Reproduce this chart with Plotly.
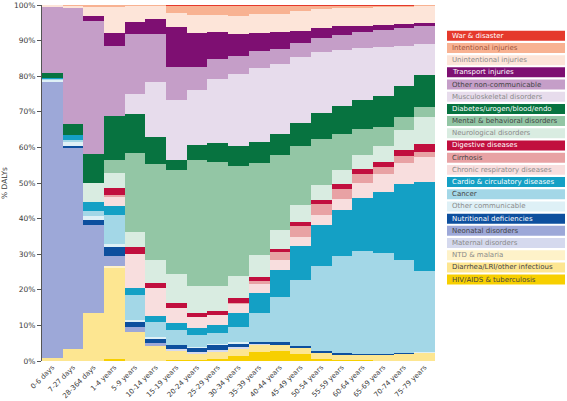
import plotly.graph_objects as go

ages = ["0-6 days", "7-27 days", "28-364 days", "1-4 years", "5-9 years", "10-14 years",
        "15-19 years", "20-24 years", "25-29 years", "30-34 years", "35-39 years",
        "40-44 years", "45-49 years", "50-54 years", "55-59 years", "60-64 years",
        "65-69 years", "70-74 years", "75-79 years"]

# % DALYs per cause (stack order bottom -> top)
hiv_tb       = [0, 0, 0, 0.5, 0, 0, 0.3, 0.4, 0.6, 1.3, 2.6, 2.8, 1.9, 0.7, 0.3, 0.2, 0.1, 0, 0]
diarrhea     = [0.8, 3.4, 13.4, 25.5, 8.2, 4.2, 2.6, 1.6, 2.0, 2.2, 1.9, 1.9, 1.8, 1.6, 1.6, 1.6, 1.7, 2.0, 2.3]
ntd_malaria  = [0, 0, 0, 0.6, 0, 0, 0, 0, 0, 0, 0, 0, 0, 0, 0, 0, 0, 0, 0]
maternal     = [0, 0, 0, 0, 0, 0, 0.4, 0.4, 0.5, 0.3, 0.2, 0, 0, 0, 0, 0, 0, 0, 0]
neonatal     = [77.7, 56.5, 24.8, 2.8, 1.4, 0.8, 0, 0, 0, 0, 0, 0, 0, 0, 0, 0, 0, 0, 0]
nutritional  = [0, 0.5, 1.3, 2.7, 1.4, 1.4, 1.2, 1.3, 1.4, 1.2, 0.6, 0.5, 0.6, 0.5, 0.4, 0.2, 0.2, 0.2, 0.1]
other_comm   = [0.5, 1.1, 1.1, 0.9, 0.5, 0.3, 0, 0.3, 0.3, 0.3, 0, 0, 0, 0, 0, 0, 0, 0, 0.2]
cancer       = [0.3, 0.7, 1.5, 8.1, 7.0, 4.3, 4.2, 3.3, 3.0, 4.3, 8.1, 12.8, 18.4, 23.8, 27.1, 28.9, 28.2, 26.3, 22.7]
cardio       = [0.3, 1.2, 2.6, 2.4, 1.9, 1.6, 1.9, 2.0, 2.3, 3.8, 5.6, 7.7, 9.6, 11.5, 13.0, 15.0, 17.3, 21.3, 25.0]
chronic_resp = [0, 0, 0, 2.7, 9.6, 7.8, 4.2, 3.1, 2.8, 2.7, 2.6, 2.6, 2.6, 3.0, 3.2, 4.1, 5.1, 5.8, 7.0]
cirrhosis    = [0, 0, 0, 0.5, 0, 0, 0, 0, 0, 0.3, 0.9, 2.4, 3.0, 2.9, 2.8, 2.5, 1.9, 1.9, 1.4]
digestive    = [0, 0, 0, 1.9, 2.1, 1.4, 1.4, 1.1, 1.2, 1.2, 1.2, 0.9, 1.2, 1.2, 1.3, 1.4, 1.4, 1.7, 2.2]
neurological = [0, 0, 5.3, 4.3, 4.2, 6.5, 8.1, 7.5, 6.9, 6.2, 6.0, 5.3, 4.7, 4.2, 3.9, 3.9, 4.4, 5.6, 7.6]
mental       = [0, 0, 0, 3.7, 22.1, 27.1, 29.3, 35.4, 34.9, 30.9, 25.9, 20.9, 16.5, 13.1, 10.3, 7.5, 5.4, 3.7, 2.8]
diabetes     = [1.2, 3.1, 8.2, 12.1, 11.1, 7.5, 3.0, 4.2, 5.2, 5.7, 5.9, 6.1, 6.5, 7.2, 7.6, 8.1, 8.6, 8.7, 8.9]
musculo      = [0, 0, 0, 0, 5.6, 15.5, 16.6, 15.6, 18.2, 20.3, 20.7, 19.6, 18.6, 17.1, 15.9, 14.6, 13.9, 11.4, 8.9]
other_ncd    = [18.8, 32.9, 37.4, 19.9, 16.8, 13.5, 9.4, 6.4, 5.6, 5.1, 4.8, 4.2, 3.9, 4.0, 4.3, 4.4, 4.8, 4.9, 4.9]
transport    = [0, 0, 1.4, 3.6, 3.3, 4.2, 11.2, 9.6, 7.5, 6.1, 5.2, 4.7, 3.5, 2.8, 2.3, 1.8, 1.5, 1.2, 0.9]
unintentional= [0.4, 0.5, 2.6, 7.4, 4.6, 3.8, 3.9, 4.9, 4.7, 5.0, 5.2, 5.1, 5.6, 5.3, 5.2, 5.2, 5.1, 5.0, 5.0]
intentional  = [0, 0.1, 0.4, 0.4, 0.2, 0.1, 2.2, 2.8, 2.8, 3.0, 2.5, 2.4, 1.5, 1.0, 0.7, 0.5, 0.3, 0.2, 0.1]
war          = [0, 0, 0, 0, 0, 0, 0.1, 0.1, 0.1, 0.1, 0.1, 0.1, 0.1, 0.1, 0.1, 0.1, 0.1, 0.1, 0]

# legend (top -> bottom): name, data, fill colour, text colour
series = [
    ("War & disaster", war, "#e5392b", "#ffffff"),
    ("Intentional injuries", intentional, "#f8b292", "#a0523a"),
    ("Unintentional injuries", unintentional, "#fde5d9", "#8a8a8a"),
    ("Transport injuries", transport, "#7e0f72", "#ffffff"),
    ("Other non-communicable", other_ncd, "#c59ec8", "#444444"),
    ("Musculoskeletal disorders", musculo, "#e7dcec", "#8a8a8a"),
    ("Diabetes/urogen/blood/endo", diabetes, "#077340", "#ffffff"),
    ("Mental & behavioral disorders", mental, "#93c6a5", "#444444"),
    ("Neurological disorders", neurological, "#d9ece1", "#8a8a8a"),
    ("Digestive diseases", digestive, "#c10f3e", "#ffffff"),
    ("Cirrhosis", cirrhosis, "#e8a2a4", "#444444"),
    ("Chronic respiratory diseases", chronic_resp, "#f8dede", "#8a8a8a"),
    ("Cardio & circulatory diseases", cardio, "#14a0c5", "#ffffff"),
    ("Cancer", cancer, "#a3d7e7", "#444444"),
    ("Other communicable", other_comm, "#def0f6", "#8a8a8a"),
    ("Nutritional deficiencies", nutritional, "#0d4f9e", "#ffffff"),
    ("Neonatal disorders", neonatal, "#9da8d8", "#444444"),
    ("Maternal disorders", maternal, "#d5d9ee", "#8a8a8a"),
    ("NTD & malaria", ntd_malaria, "#fef2c9", "#8a8a8a"),
    ("Diarrhea/LRI/other infectious", diarrhea, "#fde691", "#444444"),
    ("HIV/AIDS & tuberculosis", hiv_tb, "#f7cf00", "#444444"),
]

FONT = "DejaVu Sans"
fig = go.Figure()
for name, vals, col, tcol in reversed(series):
    fig.add_trace(go.Bar(x=ages, y=vals, name=name, marker=dict(color=col, line=dict(width=0)),
                         showlegend=False))

W, H = 567, 401
L, R, T, B = 42, 435, 4.5, 361
pw, ph = R - L, B - T

shapes, annots = [], []
top_c, step, box_h = 35.3, 12.21, 10.0
for i, (name, vals, col, tcol) in enumerate(series):
    cy = top_c + i * step
    y0 = (B - (cy + box_h / 2)) / ph
    y1 = (B - (cy - box_h / 2)) / ph
    shapes.append(dict(type="rect", xref="paper", yref="paper",
                       x0=(447 - L) / pw, x1=(565 - L) / pw, y0=y0, y1=y1,
                       fillcolor=col, line=dict(width=0), layer="above"))
    annots.append(dict(xref="paper", yref="paper", x=(450 - L) / pw, y=(B - cy) / ph,
                       text=name, showarrow=False, xanchor="left", yanchor="middle",
                       font=dict(family=FONT, size=7, color=tcol)))

fig.update_layout(
    width=W, height=H, autosize=False,
    margin=dict(l=L, r=W - R, t=T, b=H - B, pad=0),
    barmode="stack", bargap=0,
    paper_bgcolor="white", plot_bgcolor="white",
    font=dict(family=FONT, size=8, color="#444444"),
    shapes=shapes, annotations=annots,
    xaxis=dict(type="category", tickangle=-45, tickfont=dict(size=7, color="#3a3a3a"),
               showline=False, ticks="", showgrid=False, automargin=False),
    yaxis=dict(range=[0, 100], dtick=10, ticksuffix="%", showgrid=False, zeroline=False,
               showline=True, linecolor="#555555", linewidth=1, ticks="outside", ticklen=4,
               tickcolor="#555555", tickfont=dict(size=7.5, color="#3a3a3a"),
               title=dict(text="% DALYs", font=dict(size=7.5, color="#3a3a3a"), standoff=8),
               automargin=False),
)

# remove the default 8px page margin so the figure sits at the window origin
fig.write_html("out.html", config={"displayModeBar": False},
               post_script="document.body.style.margin='0';document.body.style.overflow='hidden';")
